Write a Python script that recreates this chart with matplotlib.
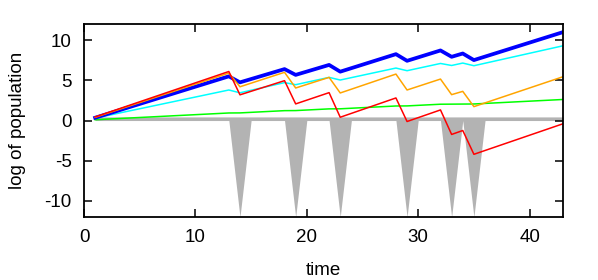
import matplotlib
matplotlib.use("Agg")
import matplotlib.pyplot as plt

plt.rcParams["font.family"] = ["Liberation Sans", "DejaVu Sans"]
plt.rcParams["axes.unicode_minus"] = False

# vertices of each series (time steps where the slope changes)
t = [1, 13, 14, 18, 19, 22, 23, 28, 29, 32, 33, 34, 35, 43]
blue = [0.35, 5.5, 4.75, 6.4, 5.68, 6.92, 6.08, 8.26, 7.43, 8.72, 7.93, 8.34, 7.52, 11.0]
cyan = [0.3, 3.8, 3.45, 4.72, 4.46, 5.37, 5.04, 6.53, 6.2, 7.1, 6.85, 7.15, 6.82, 9.3]
orange = [0.4, 5.9, 4.2, 6.0, 4.05, 5.37, 3.43, 5.78, 3.8, 5.16, 3.22, 3.63, 1.73, 5.45]
red = [0.45, 6.1, 3.2, 4.96, 2.07, 3.47, 0.41, 2.81, -0.12, 1.32, -1.73, -1.24, -4.2, -0.4]
green = [0.1, 0.94, 0.95, 1.23, 1.24, 1.45, 1.46, 1.81, 1.82, 2.03, 2.04, 2.05, 2.06, 2.62]

# catastrophe indicator curve
gray_t = [1, 13, 14, 15, 18, 19, 20, 22, 23, 24, 28, 29, 30, 32, 33, 34, 35, 36, 43]
gray_v = [0, 0, -12, 0, 0, -12, 0, 0, -12, 0, 0, -12, 0, 0, -12, 0, -12, 0, 0]

fig = plt.figure(figsize=(5.98, 2.80), dpi=100)
ax = fig.add_axes([0.1405, 0.225, 0.801, 0.689])

ax.fill_between(gray_t, gray_v, 0.45, color="#b3b3b3", linewidth=0)
ax.plot(t, green, color="#00ff00", lw=1.1)
ax.plot(t, cyan, color="#00ffff", lw=1.1)
ax.plot(t, blue, color="#0000ff", lw=2.7)
ax.plot(t, orange, color="#ffa500", lw=1.1)
ax.plot(t, red, color="#ff0000", lw=1.1)

ax.set_xlim(0, 43)
ax.set_ylim(-12, 12)
ax.set_xticks([0, 10, 20, 30, 40])
ax.set_yticks([-10, -5, 0, 5, 10])
ax.tick_params(direction="in", length=6, width=1.1, top=True, right=True,
               labelsize=13.5, pad=9)
for s in ax.spines.values():
    s.set_linewidth(1.3)
ax.set_xlabel("time", fontsize=13.5, labelpad=11)
ax.set_ylabel("log of population", fontsize=13.5, labelpad=13)

fig.savefig("out.png", dpi=100)
